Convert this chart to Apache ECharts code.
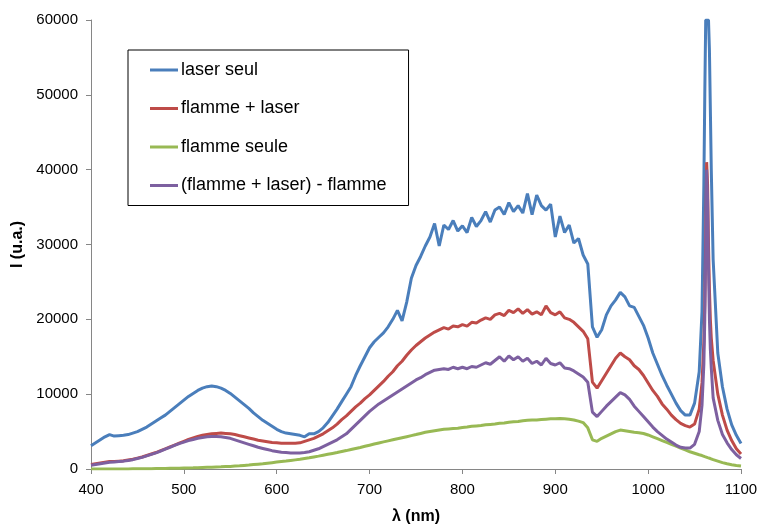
<!DOCTYPE html>
<html>
<head>
    <meta charset="utf-8">
    <title>Spectres laser / flamme</title>
    <style type="text/css">
        body {
            margin: 0;
            background: #fff;
        }
        #spectrum-chart {
            width: 760px;
            height: 528px;
        }
    </style>
</head>
<body>

    <div id="spectrum-chart"></div>
    <script src="https://cdn.jsdelivr.net/npm/echarts@6/dist/echarts.min.js"></script>

    <script>
        // longueurs d'onde (nm), pas de 5 nm + points serres autour de la raie laser
        var wavelengths = [
            400, 405, 410, 415, 420, 425, 430, 435, 440, 445,
            450, 455, 460, 465, 470, 475, 480, 485, 490, 495,
            500, 505, 510, 515, 520, 525, 530, 535, 540, 545,
            550, 555, 560, 565, 570, 575, 580, 585, 590, 595,
            600, 605, 610, 615, 620, 625, 630, 635, 640, 645,
            650, 655, 660, 665, 670, 675, 680, 685, 690, 695,
            700, 705, 710, 715, 720, 725, 730, 735, 740, 745,
            750, 755, 760, 765, 770, 775, 780, 785, 790, 795,
            800, 805, 810, 815, 820, 825, 830, 835, 840, 845,
            850, 855, 860, 865, 870, 875, 880, 885, 890, 895,
            900, 905, 910, 915, 920, 925, 930, 935, 940, 945,
            950, 955, 960, 965, 970, 975, 980, 985, 990, 995,
            1000, 1005, 1010, 1015, 1020, 1025, 1030, 1035, 1040, 1045,
            1050, 1055,
            1058, 1060, 1061, 1062, 1063, 1064, 1065, 1066, 1067, 1068,
            1070, 1075, 1080, 1085, 1090, 1095, 1100
        ];

        var laserSeul = [
            3100, 3500, 3900, 4300, 4600, 4400, 4450, 4500, 4600, 4800,
            5000, 5300, 5600, 6000, 6400, 6800, 7200, 7700, 8200, 8700,
            9200, 9700, 10100, 10500, 10800, 11000, 11100, 11000, 10800, 10500,
            10100, 9600, 9100, 8600, 8100, 7500, 7000, 6500, 6100, 5700,
            5300, 5000, 4800, 4700, 4600, 4500, 4300, 4700, 4700, 5000,
            5500, 6200, 7100, 8000, 9000, 10000, 11000, 12500, 13800, 15000,
            16200, 17000, 17600, 18200, 19000, 20000, 21200, 19800, 22300, 25500,
            27200, 28400, 29800, 31000, 32800, 29800, 32600, 32000, 33200, 31800,
            32500, 31600, 33600, 32400, 33200, 34400, 33000, 34600, 35000, 34000,
            35600, 34400, 35200, 34200, 36800, 34000, 36600, 35200, 34600, 35400,
            31000, 33800, 31600, 32600, 30200, 30800, 28600, 27400, 19000, 17600,
            18600, 20600, 21800, 22600, 23600, 23000, 21800, 21600, 20400, 19200,
            17500, 15500, 14000, 12500, 11200, 10000, 8800, 7800, 7200, 7200,
            8800, 13000,
            21000, 38000, 50000, 60000, 60000, 60000, 60000, 56000, 48000, 40000,
            28000, 15500, 11000, 8000, 5900, 4500, 3400
        ];

        var flammeLaser = [
            600, 700, 800, 900, 1000, 1000, 1050, 1100, 1200, 1300,
            1450, 1600, 1800, 2000, 2200, 2450, 2700, 2950, 3200, 3450,
            3700, 3950, 4150, 4350, 4500, 4600, 4700, 4750, 4800, 4750,
            4700, 4600, 4450, 4300, 4150, 4000, 3850, 3750, 3650, 3550,
            3500, 3450, 3450, 3450, 3450, 3500, 3700, 3900, 4100, 4400,
            4700, 5100, 5500, 6000, 6600, 7100, 7700, 8300, 8800, 9400,
            9900, 10500, 11100, 11700, 12400, 13000, 13800, 14400, 15200, 15900,
            16500, 17000, 17500, 17900, 18300, 18600, 18900, 18700, 19100, 19000,
            19300, 19100, 19600, 19500, 19900, 20200, 20000, 20600, 20800, 20500,
            21200, 20900, 21400, 20800, 21300, 20700, 21000, 20600, 21800, 20900,
            20600, 21000, 20200, 20000, 19600, 19000, 18400, 17400, 11600, 10800,
            11800, 12800, 13800, 14800, 15500, 15000, 14600, 13800, 13300, 12500,
            11500, 10500, 9700, 8700, 8000, 7200, 6600, 6100, 5800, 5600,
            6000, 8000,
            11500, 17000, 22000, 31000, 41000, 38000, 30000, 24000, 20000, 17500,
            14500, 10000, 7200, 5200, 3800, 2700, 2000
        ];

        var flammeSeule = [
            0, 0, 0, 0, 0, 0, 0, 10, 15, 20,
            25, 30, 40, 50, 60, 70, 80, 90, 100, 115,
            130, 145, 160, 180, 200, 220, 240, 265, 290, 320,
            350, 390, 430, 480, 530, 590, 650, 710, 780, 850,
            920, 990, 1060, 1140, 1220, 1300, 1400, 1500, 1610, 1720,
            1840, 1960, 2080, 2200, 2330, 2460, 2600, 2740, 2880, 3030,
            3180, 3330, 3480, 3620, 3760, 3900, 4040, 4180, 4320, 4460,
            4600, 4750, 4900, 5000, 5100, 5200, 5300, 5350, 5400, 5450,
            5550, 5600, 5700, 5750, 5800, 5900, 5950, 6000, 6100, 6150,
            6250, 6300, 6350, 6450, 6500, 6550, 6550, 6600, 6650, 6700,
            6700, 6750, 6700, 6650, 6550, 6400, 6200, 5500, 3900, 3700,
            4100, 4400, 4700, 5000, 5200, 5100, 5000, 4900, 4850, 4750,
            4550, 4300, 4050, 3800, 3550, 3300, 3050, 2800, 2550, 2300,
            2100, 1900,
            1800, 1700, 1650, 1600, 1560, 1520, 1480, 1440, 1400, 1360,
            1250, 1050, 850, 700, 580, 480, 400
        ];

        var difference = [
            500, 600, 700, 800, 900, 950, 1000, 1050, 1150, 1250,
            1400, 1550, 1750, 1950, 2150, 2400, 2650, 2900, 3150, 3400,
            3600, 3800, 3950, 4100, 4200, 4300, 4350, 4350, 4300, 4200,
            4100, 3900, 3700, 3500, 3300, 3100, 2900, 2750, 2600, 2450,
            2350, 2250, 2200, 2150, 2150, 2150, 2200, 2300, 2500, 2700,
            3000, 3300, 3600, 3900, 4300, 4700, 5300, 5900, 6500, 7100,
            7700, 8200, 8700, 9100, 9500, 9900, 10300, 10700, 11100, 11500,
            11900, 12200, 12600, 12900, 13200, 13300, 13400, 13300, 13600, 13400,
            13600, 13400, 13700, 13600, 13900, 14200, 14000, 14500, 15000, 14400,
            15100, 14600, 15000, 14400, 14800, 14100, 14400, 13900, 14800, 14100,
            13900, 14200, 13500, 13400, 13100, 12700, 12300, 11600, 7600, 7000,
            7700, 8400, 9000, 9600, 10200, 9900, 9300, 8400, 7700, 7000,
            6300, 5600, 5000, 4500, 4000, 3600, 3200, 2900, 2800, 2800,
            3300, 5000,
            8500, 14000, 20000, 29000, 40000, 36000, 27000, 20000, 16000, 13500,
            9500, 6500, 4600, 3500, 2600, 1900, 1400
        ];

        var seriesNames = ['laser seul', 'flamme + laser', 'flamme seule', '(flamme + laser) - flamme'];
        var seriesColors = ['#4a7ebb', '#be4b48', '#98b954', '#7d60a0'];
        var seriesValues = [laserSeul, flammeLaser, flammeSeule, difference];

        var fontName = '"Liberation Sans", Arial, sans-serif';

        function toPoints(values) {
            return wavelengths.map(function (w, i) {
                return [w, values[i]];
            });
        }

        var chart = echarts.init(document.getElementById('spectrum-chart'));

        chart.setOption({
            animation: false,
            textStyle: {
                fontFamily: fontName
            },
            grid: {
                left: 91,
                right: 19,
                top: 20,
                bottom: 59,
                outerBoundsMode: 'none'
            },
            legend: {
                orient: 'vertical',
                left: 128,
                top: 50,
                data: seriesNames,
                icon: 'rect',
                itemWidth: 28,
                itemHeight: 3,
                itemGap: 18.5,
                padding: [10, 22, 10, 22],
                borderColor: '#000',
                borderWidth: 1,
                textStyle: {
                    fontSize: 18,
                    lineHeight: 20,
                    color: '#000',
                    padding: [0, 0, 0, -2]
                }
            },
            xAxis: {
                type: 'value',
                min: 400,
                max: 1100,
                interval: 100,
                name: 'λ (nm)',
                nameLocation: 'middle',
                nameGap: 40,
                nameTextStyle: {
                    fontSize: 16,
                    fontWeight: 'bold',
                    color: '#000'
                },
                axisLine: {
                    lineStyle: { color: '#868686', width: 1 }
                },
                axisTick: {
                    length: 5,
                    lineStyle: { color: '#868686' }
                },
                axisLabel: {
                    fontSize: 15,
                    color: '#000',
                    margin: 13,
                    formatter: function (v) { return String(v); }
                },
                splitLine: { show: false }
            },
            yAxis: {
                type: 'value',
                min: 0,
                max: 60000,
                interval: 10000,
                name: 'I (u.a.)',
                nameLocation: 'middle',
                nameGap: 51,
                nameTextStyle: {
                    fontSize: 16,
                    fontWeight: 'bold',
                    color: '#000'
                },
                axisLine: {
                    show: true,
                    lineStyle: { color: '#868686', width: 1 }
                },
                axisTick: {
                    show: true,
                    length: 5,
                    lineStyle: { color: '#868686' }
                },
                axisLabel: {
                    fontSize: 15,
                    color: '#000',
                    margin: 13,
                    formatter: function (v) { return String(v); }
                },
                splitLine: { show: false }
            },
            series: seriesNames.map(function (name, i) {
                return {
                    name: name,
                    type: 'line',
                    data: toPoints(seriesValues[i]),
                    showSymbol: false,
                    symbol: 'none',
                    clip: true,
                    color: seriesColors[i],
                    lineStyle: {
                        color: seriesColors[i],
                        width: 3
                    }
                };
            })
        });
    </script>
</body>
</html>
